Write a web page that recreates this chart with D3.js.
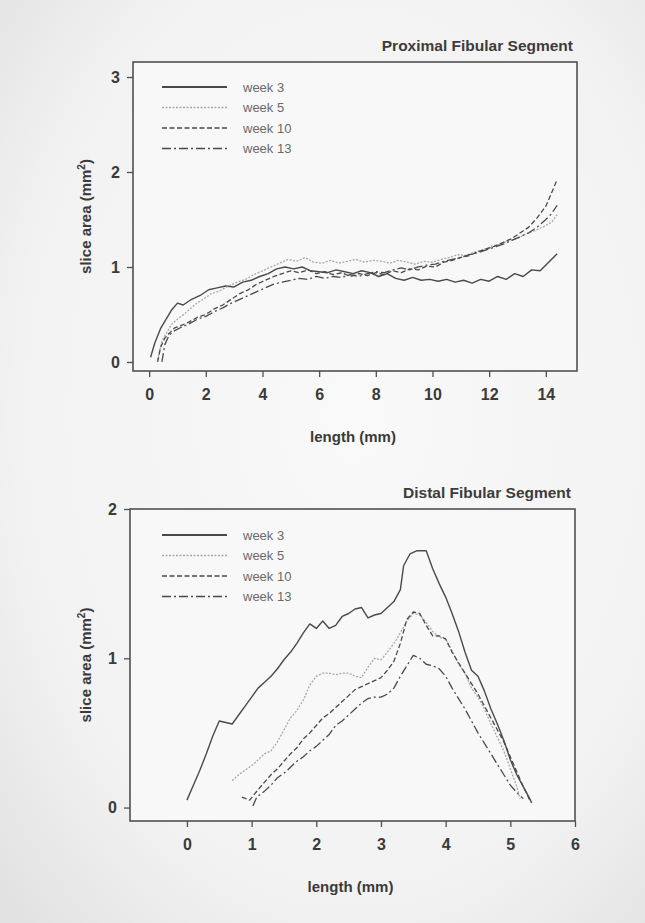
<!DOCTYPE html>
<html>
<head>
<meta charset="utf-8">
<script src="https://cdn.jsdelivr.net/npm/d3@7"></script>
<style>
  body { margin:0; background:#eeeeee; }
  text { font-family: Arial, "Liberation Sans", sans-serif; }
</style>
</head>
<body>
<script>
// series labels
var weeks = ["week 3", "week 5", "week 10", "week 13"]

// proximal segment, [length mm, slice area mm2]
var proxWeek3 = [[0.05,0.05],[0.2,0.2],[0.4,0.35],[0.6,0.45],[0.8,0.55],[1.0,0.62],[1.2,0.6],[1.5,0.66],[1.8,0.7],[2.1,0.76],[2.4,0.78],[2.7,0.8],[3.0,0.79],[3.3,0.84],[3.6,0.86],[3.9,0.9],[4.2,0.93],[4.5,0.98],[4.8,1.0],[5.1,0.98],[5.4,1.0],[5.7,0.96],[6.0,0.95],[6.3,0.94],[6.6,0.97],[6.9,0.95],[7.2,0.93],[7.5,0.96],[7.8,0.94],[8.1,0.9],[8.4,0.93],[8.7,0.88],[9.0,0.86],[9.3,0.89],[9.6,0.86],[9.9,0.87],[10.2,0.85],[10.5,0.87],[10.8,0.84],[11.1,0.86],[11.4,0.83],[11.7,0.87],[12.0,0.85],[12.3,0.9],[12.6,0.87],[12.9,0.93],[13.2,0.9],[13.5,0.97],[13.8,0.96],[14.1,1.05],[14.4,1.14]]
var proxWeek5 = [[0.3,0.02],[0.45,0.22],[0.6,0.3],[0.8,0.4],[1.0,0.45],[1.3,0.52],[1.6,0.6],[1.9,0.66],[2.2,0.72],[2.5,0.75],[2.8,0.8],[3.1,0.84],[3.4,0.87],[3.7,0.92],[4.0,0.96],[4.3,1.0],[4.6,1.04],[4.9,1.08],[5.2,1.06],[5.5,1.1],[5.8,1.05],[6.1,1.04],[6.4,1.07],[6.7,1.04],[7.0,1.06],[7.3,1.08],[7.6,1.05],[7.9,1.07],[8.2,1.06],[8.5,1.04],[8.8,1.07],[9.1,1.05],[9.4,1.03],[9.7,1.06],[10.0,1.05],[10.3,1.08],[10.6,1.1],[10.9,1.13],[11.2,1.12],[11.5,1.16],[11.8,1.18],[12.1,1.22],[12.4,1.24],[12.7,1.28],[13.0,1.3],[13.3,1.35],[13.6,1.38],[13.9,1.42],[14.2,1.47],[14.4,1.55]]
var proxWeek10 = [[0.3,0.0],[0.4,0.15],[0.55,0.25],[0.7,0.3],[0.9,0.36],[1.1,0.38],[1.4,0.42],[1.7,0.47],[2.0,0.5],[2.3,0.56],[2.6,0.6],[2.9,0.66],[3.2,0.72],[3.5,0.76],[3.8,0.82],[4.1,0.86],[4.4,0.9],[4.7,0.93],[5.0,0.96],[5.3,0.94],[5.6,0.97],[5.9,0.93],[6.2,0.95],[6.5,0.92],[6.8,0.94],[7.1,0.9],[7.4,0.93],[7.7,0.91],[8.0,0.94],[8.3,0.92],[8.6,0.96],[8.9,0.94],[9.2,0.98],[9.5,0.97],[9.8,1.01],[10.1,1.0],[10.4,1.05],[10.7,1.07],[11.0,1.1],[11.3,1.12],[11.6,1.16],[11.9,1.19],[12.2,1.22],[12.5,1.26],[12.8,1.3],[13.1,1.36],[13.4,1.42],[13.7,1.52],[14.0,1.64],[14.2,1.78],[14.4,1.92]]
var proxWeek13 = [[0.45,0.0],[0.55,0.18],[0.7,0.28],[0.9,0.33],[1.1,0.36],[1.4,0.4],[1.7,0.45],[2.0,0.48],[2.3,0.53],[2.6,0.57],[2.9,0.62],[3.2,0.66],[3.5,0.7],[3.8,0.74],[4.1,0.78],[4.4,0.82],[4.7,0.84],[5.0,0.86],[5.3,0.88],[5.6,0.87],[5.9,0.9],[6.2,0.88],[6.5,0.9],[6.8,0.89],[7.1,0.92],[7.4,0.9],[7.7,0.93],[8.0,0.95],[8.3,0.94],[8.6,0.97],[8.9,0.99],[9.2,0.97],[9.5,1.0],[9.8,1.02],[10.1,1.03],[10.4,1.06],[10.7,1.08],[11.0,1.1],[11.3,1.13],[11.6,1.15],[11.9,1.18],[12.2,1.21],[12.5,1.24],[12.8,1.28],[13.1,1.32],[13.4,1.36],[13.7,1.42],[14.0,1.5],[14.2,1.56],[14.4,1.65]]

// distal segment
var distWeek3 = [[0.0,0.05],[0.1,0.15],[0.2,0.25],[0.3,0.36],[0.4,0.48],[0.5,0.58],[0.6,0.57],[0.7,0.56],[0.8,0.62],[0.9,0.68],[1.0,0.74],[1.1,0.8],[1.2,0.84],[1.3,0.88],[1.4,0.93],[1.5,0.99],[1.6,1.04],[1.7,1.1],[1.8,1.17],[1.9,1.23],[2.0,1.2],[2.1,1.25],[2.2,1.2],[2.3,1.22],[2.4,1.28],[2.5,1.3],[2.6,1.33],[2.7,1.34],[2.8,1.27],[2.9,1.29],[3.0,1.3],[3.1,1.34],[3.2,1.38],[3.3,1.46],[3.35,1.62],[3.45,1.7],[3.55,1.72],[3.7,1.72],[3.8,1.6],[3.9,1.5],[4.0,1.41],[4.1,1.3],[4.2,1.18],[4.3,1.04],[4.4,0.92],[4.5,0.88],[4.6,0.78],[4.7,0.66],[4.8,0.56],[4.9,0.45],[5.0,0.32],[5.1,0.22],[5.2,0.14],[5.3,0.06],[5.33,0.03]]
var distWeek5 = [[0.7,0.18],[0.8,0.22],[0.9,0.25],[1.0,0.28],[1.1,0.32],[1.2,0.36],[1.3,0.38],[1.4,0.44],[1.5,0.52],[1.6,0.6],[1.7,0.65],[1.8,0.72],[1.9,0.82],[2.0,0.88],[2.1,0.9],[2.2,0.9],[2.3,0.89],[2.4,0.9],[2.5,0.9],[2.6,0.88],[2.7,0.87],[2.8,0.94],[2.9,1.0],[3.0,0.99],[3.1,1.04],[3.2,1.1],[3.3,1.17],[3.4,1.25],[3.5,1.3],[3.6,1.29],[3.7,1.24],[3.8,1.18],[3.9,1.14],[4.0,1.13],[4.1,1.05],[4.2,0.96],[4.3,0.9],[4.4,0.8],[4.5,0.74],[4.6,0.66],[4.7,0.56],[4.8,0.47],[4.9,0.38],[5.0,0.26],[5.1,0.14],[5.15,0.06]]
var distWeek10 = [[0.85,0.07],[0.97,0.05],[1.1,0.12],[1.2,0.17],[1.3,0.22],[1.4,0.26],[1.5,0.31],[1.6,0.36],[1.7,0.4],[1.8,0.46],[1.9,0.5],[2.0,0.55],[2.1,0.6],[2.2,0.63],[2.3,0.67],[2.4,0.71],[2.5,0.75],[2.6,0.79],[2.7,0.81],[2.8,0.83],[2.9,0.85],[3.0,0.87],[3.1,0.92],[3.2,0.98],[3.3,1.1],[3.4,1.26],[3.5,1.31],[3.6,1.3],[3.7,1.22],[3.8,1.15],[3.9,1.15],[4.0,1.13],[4.1,1.04],[4.2,0.97],[4.3,0.9],[4.4,0.83],[4.5,0.76],[4.6,0.68],[4.7,0.6],[4.8,0.52],[4.9,0.44],[5.0,0.34],[5.1,0.24],[5.2,0.14],[5.3,0.05]]
var distWeek13 = [[1.02,0.01],[1.08,0.07],[1.2,0.11],[1.3,0.15],[1.4,0.2],[1.5,0.23],[1.6,0.27],[1.7,0.31],[1.8,0.34],[1.9,0.38],[2.0,0.41],[2.1,0.45],[2.2,0.49],[2.3,0.55],[2.4,0.58],[2.5,0.62],[2.6,0.66],[2.7,0.7],[2.8,0.73],[2.9,0.74],[3.0,0.74],[3.1,0.76],[3.2,0.8],[3.3,0.88],[3.4,0.95],[3.5,1.02],[3.6,1.0],[3.7,0.96],[3.8,0.95],[3.9,0.93],[4.0,0.88],[4.1,0.8],[4.2,0.73],[4.3,0.66],[4.4,0.58],[4.5,0.5],[4.6,0.43],[4.7,0.36],[4.8,0.29],[4.9,0.22],[5.0,0.15],[5.1,0.1],[5.2,0.06]]

var proxXTicks = [0,2,4,6,8,10,12,14]
var proxYTicks = [0,1,2,3]
var distXTicks = [0,1,2,3,4,5,6]
var distYTicks = [0,1,2]

// line look per week
var styles = [
  {stroke:"#4a4a4a", dash:null, w:1.4},
  {stroke:"#a8a8a8", dash:"2,1.5", w:1.3},
  {stroke:"#4a4a4a", dash:"5,2.5", w:1.3},
  {stroke:"#4a4a4a", dash:"9,3,2,3", w:1.3}
]

var width = 645, height = 923

var svg = d3.select("body").append("svg")
  .attr("width", width).attr("height", height)

// soft scanned paper
var defs = svg.append("defs")
var grad = defs.append("radialGradient").attr("id","paper").attr("cx","55%").attr("cy","45%").attr("r","75%")
grad.append("stop").attr("offset","0%").attr("stop-color","#f9f9f9")
grad.append("stop").attr("offset","70%").attr("stop-color","#f2f2f2")
grad.append("stop").attr("offset","100%").attr("stop-color","#e2e2e2")
svg.append("rect").attr("width",width).attr("height",height).attr("fill","url(#paper)")

function drawPanel(opt){
  var x = d3.scaleLinear().domain(opt.xDomain).range([opt.left, opt.right])
  var y = d3.scaleLinear().domain(opt.yDomain).range([opt.bottom, opt.top])
  var g = svg.append("g")

  g.append("rect")
    .attr("x",opt.left).attr("y",opt.top)
    .attr("width",opt.right-opt.left).attr("height",opt.bottom-opt.top)
    .attr("fill","#f8f8f8").attr("stroke","#505050").attr("stroke-width",1.6)

  var xAxis = g.append("g").attr("transform","translate(0,"+opt.bottom+")")
    .call(d3.axisBottom(x).tickValues(opt.xTicks).tickSize(6).tickPadding(12).tickFormat(d3.format("d")))
  var yAxis = g.append("g").attr("transform","translate("+opt.left+",0)")
    .call(d3.axisLeft(y).tickValues(opt.yTicks).tickSize(6).tickPadding(7).tickFormat(d3.format("d")))
  ;[xAxis, yAxis].forEach(function(a){
    a.select(".domain").remove()
    a.selectAll("line").attr("stroke","#505050").attr("stroke-width",1.3)
    a.selectAll("text").attr("fill","#3a3a3a").style("font-size","16px").style("font-weight","bold")
      .style("font-family","Arial, 'Liberation Sans', sans-serif")
  })

  var line = d3.line().x(function(d){return x(d[0])}).y(function(d){return y(d[1])})
  opt.series.forEach(function(s,i){
    g.append("path").datum(s)
      .attr("d", line)
      .attr("fill","none")
      .attr("stroke", styles[i].stroke)
      .attr("stroke-width", styles[i].w)
      .attr("stroke-dasharray", styles[i].dash)
      .attr("stroke-linejoin","round")
  })

  // legend
  weeks.forEach(function(w,i){
    var ly = opt.legendY + i*20.5
    g.append("line").attr("x1",162).attr("x2",227).attr("y1",ly).attr("y2",ly)
      .attr("stroke", styles[i].stroke).attr("stroke-width", styles[i].w+0.4)
      .attr("stroke-dasharray", styles[i].dash)
    g.append("text").attr("x",243).attr("y",ly+4.5).text(w)
      .attr("fill","#6a6a6a").style("font-size","13px")
  })

  g.append("text").text(opt.title)
    .attr("x",opt.right-4).attr("y",opt.top-11).attr("text-anchor","end")
    .attr("fill","#3c3c3c").style("font-size","15.5px").style("font-weight","bold")

  g.append("text").text("length (mm)")
    .attr("x",(opt.left+opt.right)/2 - 2).attr("y",opt.bottom+71).attr("text-anchor","middle")
    .attr("fill","#3a3a3a").style("font-size","15px").style("font-weight","bold")

  var yl = g.append("text")
    .attr("transform","translate(91,"+((opt.top+opt.bottom)/2)+") rotate(-90)")
    .attr("text-anchor","middle")
    .attr("fill","#3a3a3a").style("font-size","15px").style("font-weight","bold")
  yl.append("tspan").text("slice area (mm")
  yl.append("tspan").text("2").attr("dy",-6).style("font-size","10px")
  yl.append("tspan").text(")").attr("dy",6)
}

drawPanel({
  title:"Proximal Fibular Segment",
  left:133, right:577, top:62, bottom:371,
  xDomain:[-0.57,15.1], yDomain:[-0.095,3.158],
  xTicks:proxXTicks, yTicks:proxYTicks,
  series:[proxWeek3, proxWeek5, proxWeek10, proxWeek13],
  legendY:87
})

drawPanel({
  title:"Distal Fibular Segment",
  left:130, right:575, top:509, bottom:821,
  xDomain:[-0.88,6], yDomain:[-0.09,2],
  xTicks:distXTicks, yTicks:distYTicks,
  series:[distWeek3, distWeek5, distWeek10, distWeek13],
  legendY:535
})
</script>
</body>
</html>
